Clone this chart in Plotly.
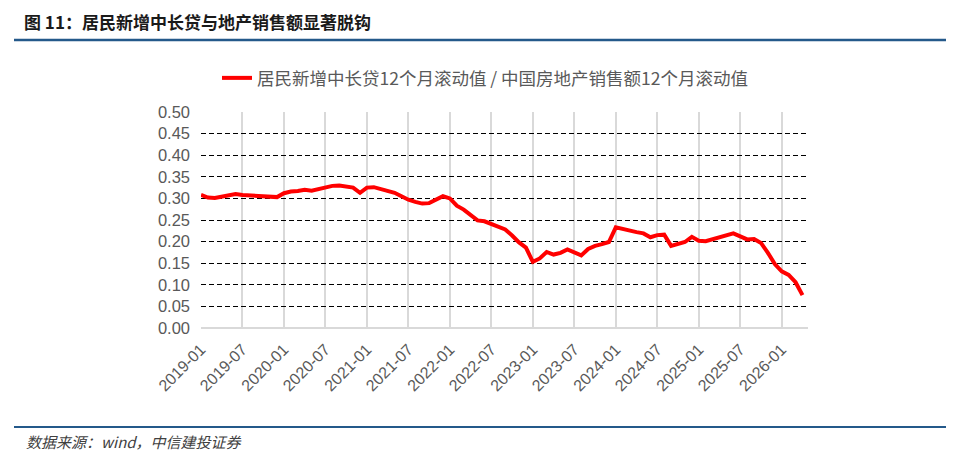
import pandas as pd
import plotly.graph_objects as go

# ---- data ----
months = [d.strftime("%Y-%m") for d in pd.date_range("2019-01-01", periods=88, freq="MS")]
ratio = [
    0.308, 0.302, 0.301, 0.304, 0.307, 0.310, 0.308, 0.307, 0.306, 0.305, 0.302, 0.303,
    0.312, 0.316, 0.317, 0.320, 0.318, 0.322, 0.327, 0.329, 0.330, 0.328, 0.325, 0.313,
    0.325, 0.326, 0.322, 0.318, 0.313, 0.305, 0.297, 0.292, 0.288, 0.289, 0.297, 0.305,
    0.300, 0.283, 0.274, 0.262, 0.249, 0.247, 0.241, 0.234, 0.228, 0.214, 0.198, 0.186,
    0.153, 0.161, 0.176, 0.170, 0.174, 0.182, 0.174, 0.168, 0.183, 0.190, 0.194, 0.199,
    0.233, 0.229, 0.224, 0.222, 0.219, 0.210, 0.215, 0.216, 0.190, 0.194, 0.199, 0.211,
    0.202, 0.201, 0.205, 0.210, 0.214, 0.219, 0.212, 0.205, 0.206, 0.197, 0.174, 0.148,
    0.131, 0.123, 0.106, 0.076,
]
tick_labels = months[::6]
series_name = "居民新增中长贷12个月滚动值 / 中国房地产销售额12个月滚动值"
title_text = "图 11：居民新增中长贷与地产销售额显著脱钩"
source_text = "数据来源：wind，中信建投证券"

# ---- layout geometry (pixels) ----
W, H = 960, 463
L, R, T, B = 201, 808, 112, 328
PW, PH = R - L, B - T


def px(x):
    return (x - L) / PW


def py(y):
    return (B - y) / PH


fig = go.Figure()
fig.add_trace(go.Scatter(
    x=months, y=ratio, mode="lines", name=series_name,
    line=dict(color="#FF0000", width=4),
))

grey_txt = "#595959"
fig.update_layout(
    width=W, height=H,
    margin=dict(l=L, r=W - R, t=T, b=H - B, pad=0),
    paper_bgcolor="white", plot_bgcolor="white",
    font=dict(family="Liberation Sans, Arial, Noto Sans CJK SC", color=grey_txt),
    showlegend=True,
    legend=dict(
        orientation="h", x=px(217), y=py(78), xanchor="left", yanchor="middle",
        font=dict(size=17.5, color=grey_txt, family="Noto Sans CJK SC, Liberation Serif"),
        bgcolor="rgba(0,0,0,0)", itemwidth=30,
    ),
    xaxis=dict(
        type="category", range=[0, 87.8],
        tickmode="array", tickvals=tick_labels, ticktext=tick_labels,
        tickangle=-45, tickfont=dict(size=16, color=grey_txt),
        showgrid=True, gridcolor="#D9D9D9", gridwidth=1.5,
        showline=False, ticks="", zeroline=False, ticklabelstandoff=8,
    ),
    yaxis=dict(
        range=[0, 0.5], dtick=0.05, tickformat=".2f",
        tickfont=dict(size=16.5, color=grey_txt),
        showgrid=True, gridcolor="#000000", gridwidth=1, griddash="5px,3px",
        zeroline=True, zerolinecolor="#D9D9D9", zerolinewidth=1.5,
        showline=False, ticks="", ticklabelstandoff=10,
    ),
    shapes=[
        dict(type="line", xref="paper", yref="paper", x0=px(14), x1=px(946),
             y0=py(40), y1=py(40), line=dict(color="#24598A", width=2.5)),
        dict(type="line", xref="paper", yref="paper", x0=px(14), x1=px(946),
             y0=py(427), y1=py(427), line=dict(color="#24598A", width=2)),
    ],
    annotations=[
        dict(text="<b>" + title_text + "</b>", xref="paper", yref="paper",
             x=px(22), y=py(22), xanchor="left", yanchor="middle", showarrow=False,
             font=dict(size=17, color="#1A1A1A", family="Noto Sans CJK SC")),
        dict(text="<i>" + source_text + "</i>", xref="paper", yref="paper",
             x=px(24), y=py(441), xanchor="left", yanchor="middle", showarrow=False,
             font=dict(size=15, color="#404040", family="Noto Sans CJK SC")),
    ],
)

fig.write_html("out.html")
